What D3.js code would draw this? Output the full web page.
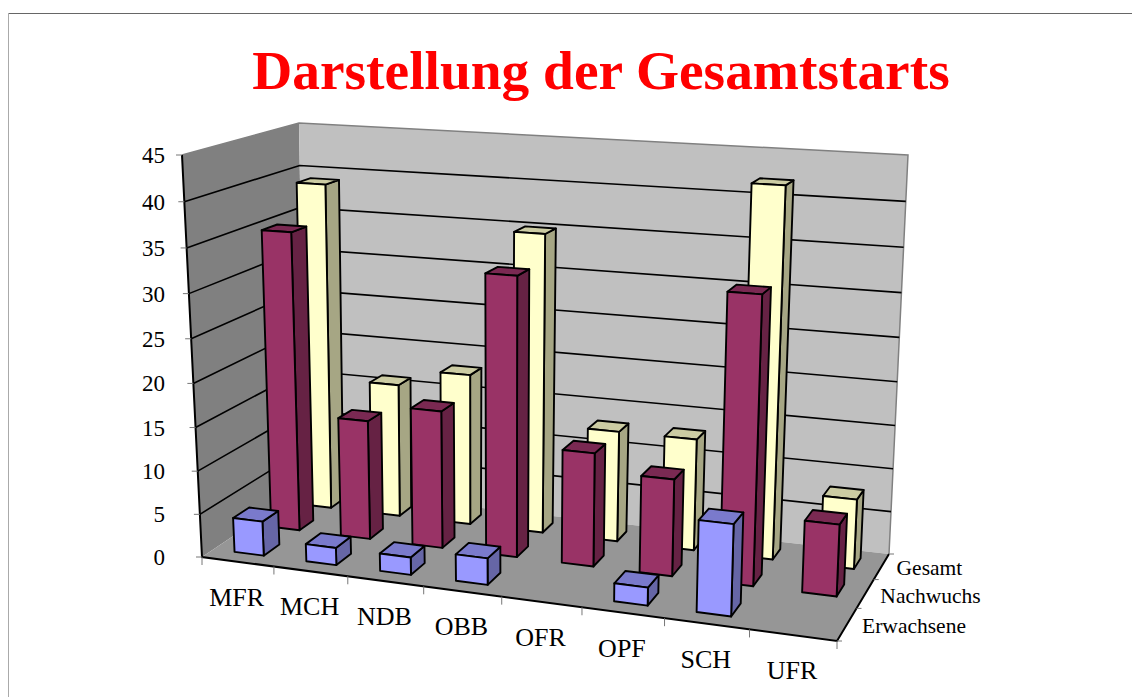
<!DOCTYPE html>
<html><head><meta charset="utf-8">
<script src="https://cdn.jsdelivr.net/npm/d3@7"></script>
<style>html,body{margin:0;padding:0;background:#fff;overflow:hidden}text{font-family:"Liberation Serif",serif}</style>
</head><body><svg id="c" width="1132" height="697"></svg>
<script>
const categories = ["MFR","MCH","NDB","OBB","OFR","OPF","SCH","UFR"];
const seriesNames = ["Erwachsene","Nachwuchs","Gesamt"];
const erwachsene = [4,2,2,3,0,2,10,0];
const nachwuchs  = [35,14,16,32,13,11,32,8];
const gesamt     = [39,16,18,35,13,13,42,8];
const valueTicks = [0,5,10,15,20,25,30,35,40,45];
const seriesValues = {Erwachsene:erwachsene,Nachwuchs:nachwuchs,Gesamt:gesamt};
const seriesColors = {
  Erwachsene:{front:"#9999ff",top:"#7a7acc",side:"#6666a6"},
  Nachwuchs:{front:"#993366",top:"#7a2952",side:"#662244"},
  Gesamt:{front:"#ffffcc",top:"#cccca3",side:"#a6a684"}};

// corners of the 3D box in the picture, indexed [x][depth][z]
const C = [[[[202,557],[182,155]],[[305,488],[299,123]]],
           [[[837,641],[855,195]],[[889,554],[908,155]]]];
const warp=k=>t=>k*t/(1+(k-1)*t);
const wx=warp(0.894), wd=warp(1.2), wz=warp(0.95);
function proj(X,Y,Z){const x=wx(X),y=wd(Y),z=wz(Z);
 return [0,1].map(a=>{
  const f=(i,j,k)=>C[i][j][k][a];
  const c00=f(0,0,0)*(1-x)+f(1,0,0)*x,c01=f(0,0,1)*(1-x)+f(1,0,1)*x,c10=f(0,1,0)*(1-x)+f(1,1,0)*x,c11=f(0,1,1)*(1-x)+f(1,1,1)*x;
  const c0=c00*(1-y)+c10*y,c1=c01*(1-y)+c11*y;return c0*(1-z)+c1*z;});}

const xScale=d3.scaleBand().domain(categories).range([0,1]).paddingInner(0.59).paddingOuter(0.295);
const xCell=d3.scaleBand().domain(categories).range([0,1]);
const dScale=d3.scaleBand().domain(seriesNames).range([0,1]).paddingInner(0.58).paddingOuter(0.29);
const dCell=d3.scaleBand().domain(seriesNames).range([0,1]);
const zScale=d3.scaleLinear().domain([0,45]).range([0,1]);

const svg=d3.select("#c");
const path=pts=>"M"+pts.map(p=>p.map(v=>v.toFixed(2)).join(",")).join("L")+"Z";
const line=d3.line();
// slide frame
svg.append("line").attr("x1",8).attr("y1",13.5).attr("x2",1132).attr("y2",13.5).attr("stroke","#666").attr("stroke-width",1);
svg.append("line").attr("x1",8.5).attr("y1",13).attr("x2",8.5).attr("y2",697).attr("stroke","#aaa").attr("stroke-width",1);
svg.append("text").attr("x",601).attr("y",89).attr("text-anchor","middle").attr("fill","#ff0000").attr("font-weight","bold").attr("font-size",55.4).text("Darstellung der Gesamtstarts");

// walls and floor
svg.append("path").attr("d",path([proj(0,0,0),proj(0,0,1),proj(0,1,1),proj(0,1,0)])).attr("fill","#808080");
svg.append("path").attr("d",path([proj(0,1,0),proj(0,1,1),proj(1,1,1),proj(1,1,0)])).attr("fill","#c0c0c0");
svg.append("path").attr("d",path([proj(0,0,0),proj(0,1,0),proj(1,1,0),proj(1,0,0)])).attr("fill","#969696");
svg.append("path").attr("d",line([proj(0,0,1),proj(0,1,1),proj(1,1,1),proj(1,1,0)])).attr("fill","none").attr("stroke","#808080").attr("stroke-width",1.5);

// gridlines
valueTicks.filter(v=>v>0&&v<45).forEach(v=>{const z=zScale(v);
 svg.append("path").attr("d",line([proj(0,0,z),proj(0,1,z),proj(1,1,z)])).attr("fill","none").attr("stroke","#000").attr("stroke-width",1.6);});

// axis lines
svg.append("path").attr("d",line([proj(0,0,1),proj(0,0,0),proj(1,0,0),proj(1,1,0)])).attr("fill","none").attr("stroke","#000").attr("stroke-width",2);
// value ticks + labels
valueTicks.forEach(v=>{const p=proj(0,0,zScale(v));
 svg.append("line").attr("x1",p[0]-6).attr("x2",p[0]).attr("y1",p[1]).attr("y2",p[1]).attr("stroke","#777").attr("stroke-width",1);
 svg.append("text").attr("x",165).attr("y",p[1]+8).attr("text-anchor","end").attr("font-size",23).attr("fill","#000").text(v);});
// category ticks + labels
categories.forEach((c,i)=>{const p=proj(xCell(c),0,0);
 svg.append("line").attr("x1",p[0]).attr("x2",p[0]).attr("y1",p[1]).attr("y2",p[1]+8).attr("stroke","#777").attr("stroke-width",1);
 const m=proj(xCell(c)+xCell.bandwidth()/2,0,0);
 svg.append("text").attr("x",m[0]-1).attr("y",m[1]+44).attr("text-anchor","middle").attr("font-size",26).attr("fill","#000").text(c);});
{const p=proj(1,0,0);svg.append("line").attr("x1",p[0]).attr("x2",p[0]).attr("y1",p[1]).attr("y2",p[1]+8).attr("stroke","#777");}
// depth ticks + labels
[...seriesNames,"end"].forEach(s=>{const t=s==="end"?1:dCell(s);const p=proj(1,t,0);
 svg.append("line").attr("x1",p[0]).attr("x2",p[0]+5).attr("y1",p[1]).attr("y2",p[1]).attr("stroke","#777");});
seriesNames.forEach(s=>{const m=proj(1,dCell(s)+dCell.bandwidth()/2,0);
 svg.append("text").attr("x",m[0]+15).attr("y",m[1]+9).attr("font-size",21.5).attr("fill","#000").text(s);});

// bars back to front
[...seriesNames].reverse().forEach(s=>{
 const col=seriesColors[s];
 categories.forEach((c,i)=>{const val=seriesValues[s][i]; if(!val) return;
  const x0=xScale(c),x1=x0+xScale.bandwidth(),y0=dScale(s),y1=y0+dScale.bandwidth(),z=zScale(val);
  const g=svg.append("g").attr("stroke","#000").attr("stroke-width",1.9).attr("stroke-linejoin","round");
  g.append("path").attr("d",path([proj(x1,y0,0),proj(x1,y1,0),proj(x1,y1,z),proj(x1,y0,z)])).attr("fill",col.side);
  g.append("path").attr("d",path([proj(x0,y0,z),proj(x1,y0,z),proj(x1,y1,z),proj(x0,y1,z)])).attr("fill",col.top);
  g.append("path").attr("d",path([proj(x0,y0,0),proj(x1,y0,0),proj(x1,y0,z),proj(x0,y0,z)])).attr("fill",col.front);
 });
});
</script></body></html>
